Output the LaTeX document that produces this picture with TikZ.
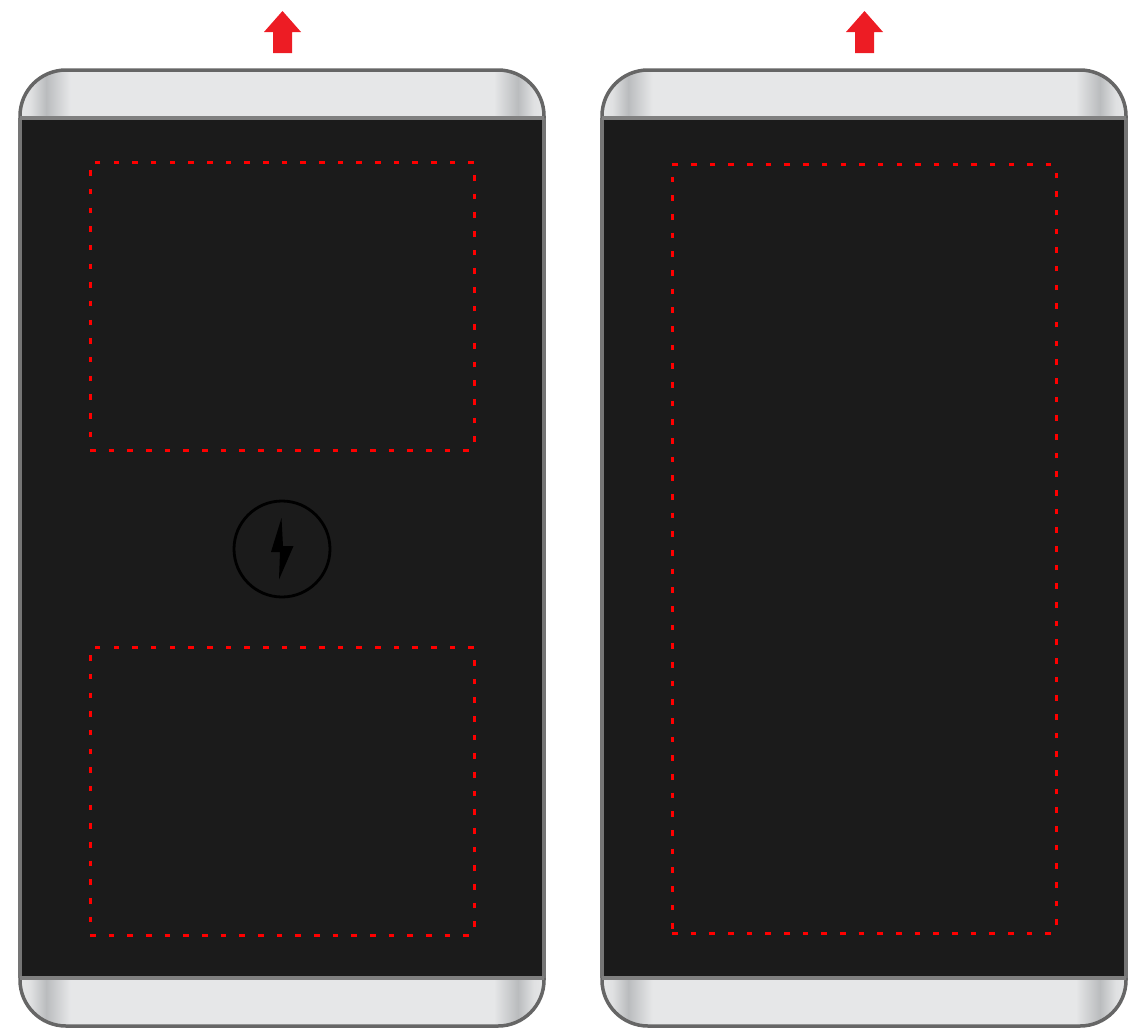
\documentclass[tikz,border=0pt]{standalone}
\usetikzlibrary{arrows.meta, positioning, shapes.geometric, calc}
\definecolor{cbody}{HTML}{1B1B1B}
\definecolor{cedge}{HTML}{666666}
\definecolor{cside}{HTML}{757575}
\definecolor{cseam}{HTML}{808080}
\definecolor{ccap}{HTML}{E6E7E8}
\definecolor{cmetal}{HTML}{BABCBE}
\definecolor{cred}{HTML}{ED1C24}
\definecolor{czone}{HTML}{FF0000}
% 524 px of phone width are 50bp of the shading
\pgfdeclarehorizontalshading{capshade}{100bp}{
  color(0bp)=(ccap); color(25bp)=(ccap); color(26.0bp)=(ccap!85!cmetal);
  color(27.5bp)=(cmetal); color(29.8bp)=(ccap); color(70.2bp)=(ccap);
  color(72.5bp)=(cmetal); color(74.0bp)=(ccap!85!cmetal); color(75bp)=(ccap); color(100bp)=(ccap)}
\tikzset{
  every picture/.style={line width=1pt},
  phonecap/.style={shading=capshade, draw=cedge, line width=3.5pt},
  seam/.style={draw=cseam, line width=3.4pt},
  zone/.style={draw=czone, line width=3pt, dash pattern=on 5.6pt off 13.07pt, inner sep=0pt, outer sep=0pt, minimum width=384pt},
  uparrow/.style={fill=cred, draw=none},
}

\begin{document}
\begin{tikzpicture}[x=1pt, y=-1pt]
  \useasboundingbox (0,0) rectangle (1145,1028);
  \foreach \dx in {0,582} {
    \begin{scope}[shift={(\dx,0)}]
      \fill[cbody] (20,118) rectangle (544,978);
      \draw[cside, line width=4pt] (20,118) -- (20,978) (544,118) -- (544,978);
      \path[phonecap] (20,118) {[rounded corners=46pt] -- (20,70) -- (544,70)} -- (544,118);
      \path[phonecap] (20,978) {[rounded corners=46pt] -- (20,1026) -- (544,1026)} -- (544,978);
      \draw[seam] (20,118) -- (544,118) (20,978) -- (544,978);
      \fill[uparrow] (282.5,11) -- (301,32) -- (292,32) -- (292,53) -- (273,53) -- (273,32) -- (264,32) -- cycle;
    \end{scope}
  }
  \node[zone, minimum height=288pt] (upperzone) at (282,306) {};
  \node[zone, minimum height=288pt] (lowerzone) at (282,791) {};
  \node[zone, minimum height=769pt] (fullzone) at (864,548.5) {};
  \node[circle, draw=black, line width=2.8pt, minimum size=96pt, inner sep=0pt] (charger) at (282,549) {};
  \fill[black] (281.5,518) -- (271,552) -- (280,552) -- (279,579.5) -- (293.5,546) -- (283,546) -- cycle;
\end{tikzpicture}
\end{document}
